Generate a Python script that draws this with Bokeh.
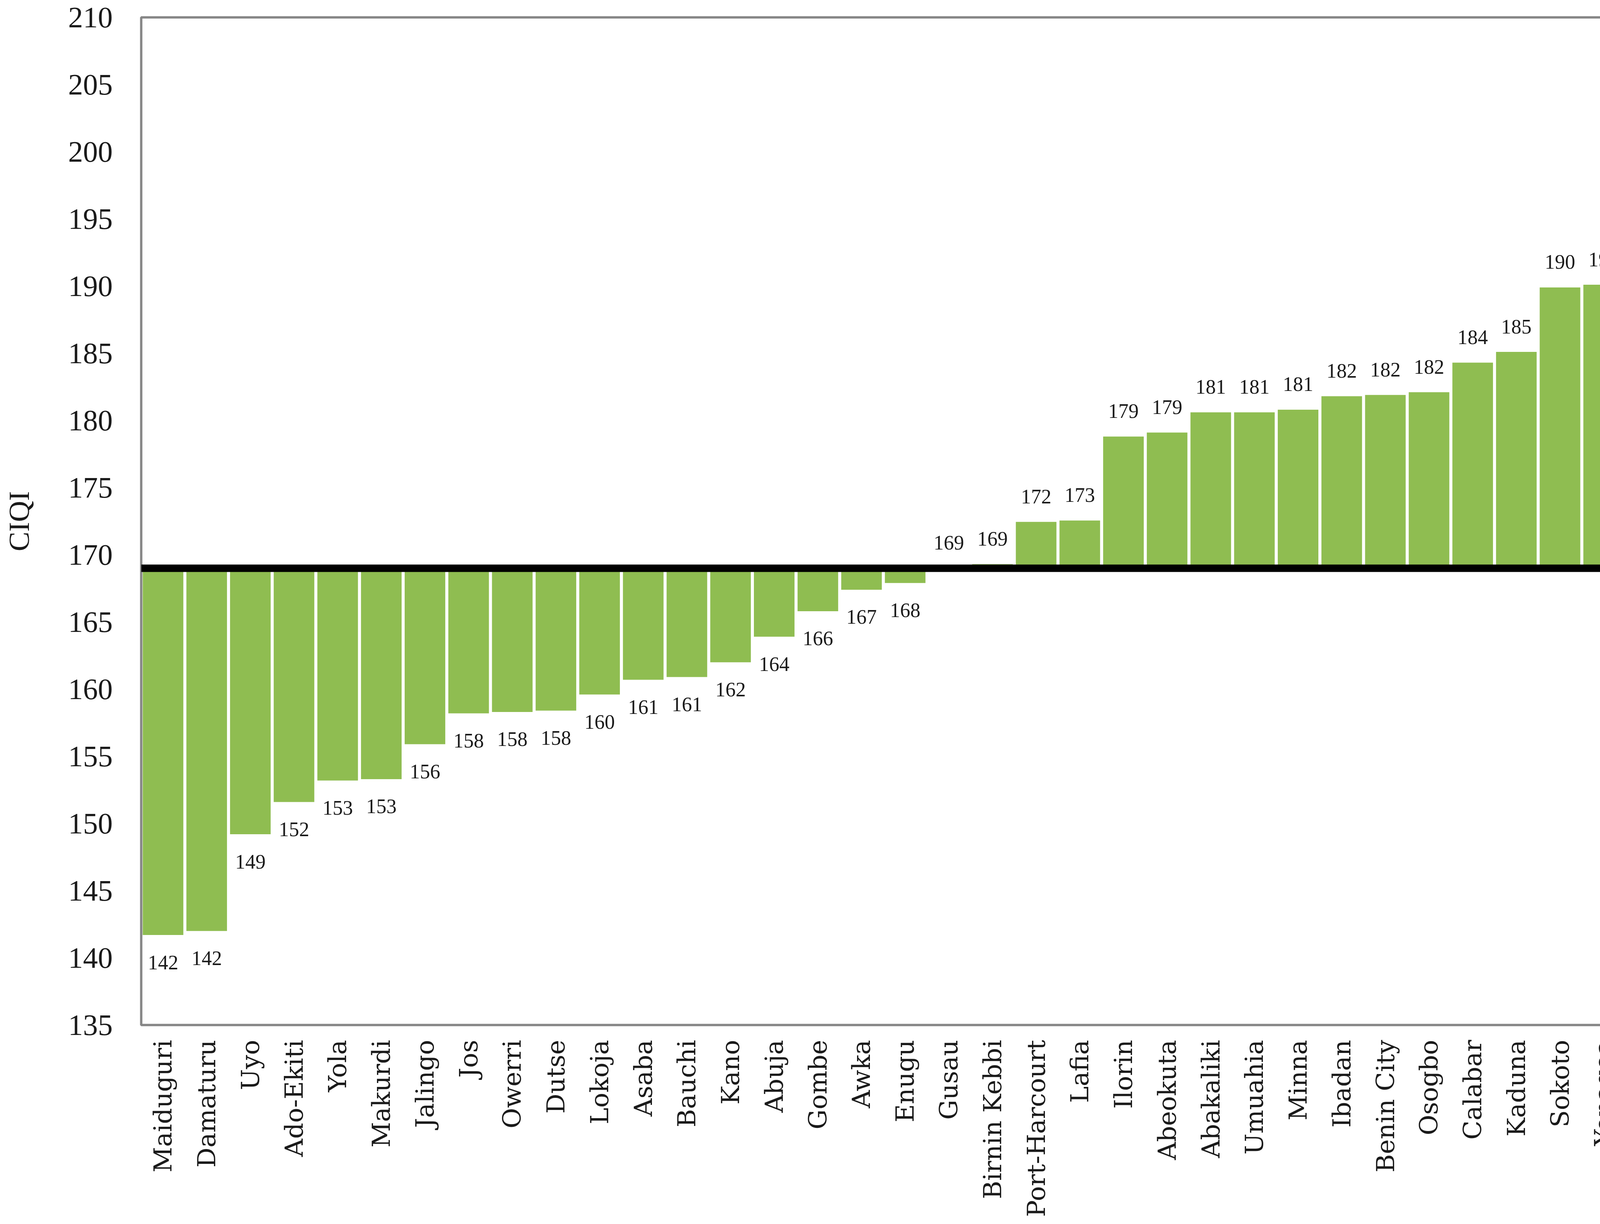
from bokeh.plotting import figure
from bokeh.models import ColumnDataSource, Span, FixedTicker
from bokeh.core.properties import value
from bokeh.embed import file_html
from bokeh.resources import INLINE
import math

cities = ["Maiduguri", "Damaturu", "Uyo", "Ado-Ekiti", "Yola", "Makurdi", "Jalingo", "Jos",
          "Owerri", "Dutse", "Lokoja", "Asaba", "Bauchi", "Kano", "Abuja", "Gombe", "Awka",
          "Enugu", "Gusau", "Birnin Kebbi", "Port-Harcourt", "Lafia", "Ilorin", "Abeokuta",
          "Abakaliki", "Umuahia", "Minna", "Ibadan", "Benin City", "Osogbo", "Calabar",
          "Kaduna", "Sokoto", "Yenagoa", "Akure", "Lagos", "Katsina"]
ciqi = [141.7, 142.0, 149.2, 151.6, 153.2, 153.3, 155.9, 158.2,
        158.3, 158.4, 159.6, 160.7, 160.9, 162.0, 163.9, 165.8, 167.4,
        167.9, 169.0, 169.3, 172.45, 172.55, 178.8, 179.1,
        180.6, 180.6, 180.8, 181.8, 181.9, 182.1, 184.3,
        185.1, 189.9, 190.1, 194.6, 200.6, 204.3]
baseline = 169.0
y_ticks = list(range(135, 211, 5))

labels = [str(int(math.floor(v + 0.5))) for v in ciqi]
pos = [i for i, v in enumerate(ciqi) if v >= baseline]
neg = [i for i, v in enumerate(ciqi) if v < baseline]

src = ColumnDataSource(dict(city=cities, val=ciqi, lab=labels))
src_pos = ColumnDataSource(dict(city=[cities[i] for i in pos], val=[ciqi[i] for i in pos],
                                lab=[labels[i] for i in pos]))
src_neg = ColumnDataSource(dict(city=[cities[i] for i in neg], val=[ciqi[i] for i in neg],
                                lab=[labels[i] for i in neg]))

p = figure(x_range=cities, y_range=(135, 210), width=4514, height=3118,
           output_backend="svg", toolbar_location=None,
           min_border_left=361, min_border_right=18, min_border_top=44, min_border_bottom=492)

p.vbar(x="city", top="val", bottom=baseline, width=0.93, source=src,
       fill_color="#8FBD51", line_color=None)

p.add_layout(Span(location=baseline, dimension="width", line_color="black", line_width=19))

p.text(x="city", y="val", text="lab", source=src_pos, text_align="center",
       text_baseline="middle", y_offset=-65, text_font=value("Liberation Serif"),
       text_font_size="52px", text_color="#1a1a1a")
p.text(x="city", y="val", text="lab", source=src_neg, text_align="center",
       text_baseline="middle", y_offset=70, text_font=value("Liberation Serif"),
       text_font_size="52px", text_color="#1a1a1a")

p.xgrid.grid_line_color = None
p.ygrid.grid_line_color = None
p.outline_line_color = "#868686"
p.outline_line_width = 6

p.yaxis.ticker = FixedTicker(ticks=y_ticks)
p.yaxis.axis_line_color = None
p.yaxis.major_tick_line_color = None
p.yaxis.minor_tick_line_color = None
p.yaxis.major_tick_out = 0
p.yaxis.major_label_standoff = 73
p.yaxis.major_label_text_font = "Liberation Serif"
p.yaxis.major_label_text_font_size = "76px"
p.yaxis.major_label_text_color = "#1a1a1a"
p.yaxis.axis_label = "CIQI"
p.yaxis.axis_label_text_font = "Liberation Serif"
p.yaxis.axis_label_text_font_style = "normal"
p.yaxis.axis_label_text_font_size = "75px"
p.yaxis.axis_label_text_color = "#1a1a1a"
p.yaxis.axis_label_standoff = 82

p.xaxis.axis_line_color = None
p.xaxis.major_tick_line_color = None
p.xaxis.minor_tick_line_color = None
p.xaxis.major_tick_out = 0
p.xaxis.major_label_standoff = 38
p.xaxis.major_label_orientation = math.pi / 2
p.xaxis.major_label_text_font = "DejaVu Serif"
p.xaxis.major_label_text_font_size = "64px"
p.xaxis.major_label_text_color = "#1a1a1a"

open("out.html", "w").write(file_html(p, INLINE))
